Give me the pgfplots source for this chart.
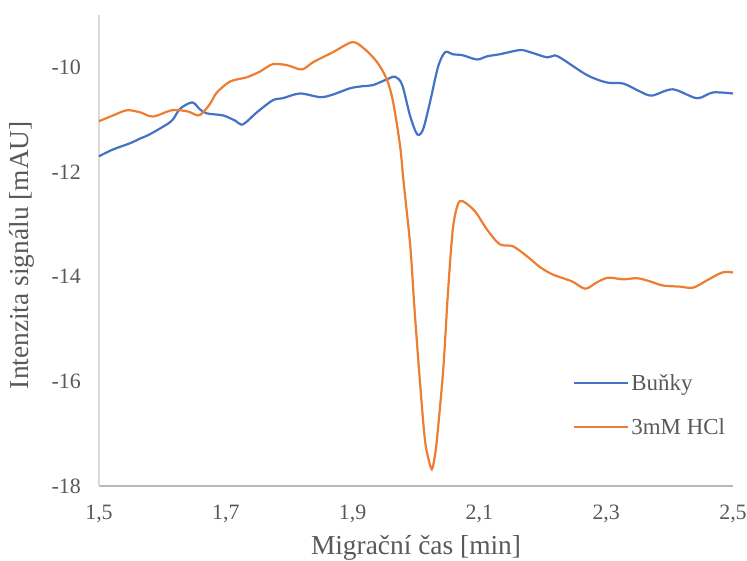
\documentclass[border=0pt]{standalone}
\usepackage{fontspec}
\setmainfont{Liberation Serif}
\usepackage{pgfplots}
\pgfplotsset{compat=1.18}
\definecolor{exblue}{HTML}{4472C4}
\definecolor{exorange}{HTML}{ED7D31}
\definecolor{txtgray}{HTML}{595959}
\begin{document}
\begin{tikzpicture}
\path[use as bounding box] (-99bp,-75bp) rectangle (648bp,486bp);
\begin{axis}[
  at={(0,0)}, anchor=south west,
  scale only axis, width=634bp, height=471bp,
  xmin=1.5, xmax=2.5, ymin=-18, ymax=-9,
  xtick={1.5,1.7,1.9,2.1,2.3,2.5},
  ytick={-18,-16,-14,-12,-10},
  major tick length=0pt,
  axis x line=bottom, axis y line=left,
  axis line style={-},
  x axis line style={draw=black!28, line width=1.2bp},
  y axis line style={draw=black!14, line width=1.2bp},
  /pgf/number format/assume math mode=true,
  /pgf/number format/use comma,
  /pgf/number format/fixed,
  xticklabel style={/pgf/number format/precision=1,/pgf/number format/fixed zerofill, anchor=center, yshift=-28bp},
  yticklabel style={anchor=east, xshift=-18bp},
  tick label style={font=\fontsize{22}{24}\selectfont, text=txtgray, inner sep=0pt},
  xlabel={Migrační čas [min]},
  ylabel={Intenzita signálu [mAU]},
  label style={font=\fontsize{27.5}{30}\selectfont, text=txtgray},
  xlabel style={at={(axis description cs:0.5,-0.1315)}, anchor=center},
  ylabel style={at={(axis description cs:-0.1215,0.49)}, anchor=center},
  legend style={draw=none, fill=none, at={(0.7476,0.172)}, anchor=west, inner sep=0pt,
    font=\fontsize{23}{25}\selectfont, text=txtgray, row sep=23bp,
    /tikz/every even column/.append style={column sep=2bp}},
  legend cell align=left,
  legend image code/.code={\draw[#1] (0bp,0bp) -- (54bp,0bp);},
  every axis plot/.append style={line width=2.2bp, smooth, tension=0.5},
  clip=false,
]
\addplot[exblue] coordinates {
(1.500,-11.70) (1.522,-11.57) (1.549,-11.45) (1.565,-11.36) (1.580,-11.28)
(1.607,-11.09) (1.617,-10.99) (1.628,-10.79) (1.647,-10.67) (1.659,-10.80)
(1.670,-10.88) (1.696,-10.92) (1.715,-11.02) (1.727,-11.09) (1.749,-10.86)
(1.774,-10.63) (1.790,-10.59) (1.817,-10.50) (1.849,-10.57) (1.869,-10.52)
(1.896,-10.40) (1.916,-10.36) (1.932,-10.34) (1.954,-10.23) (1.967,-10.18)
(1.978,-10.33) (1.991,-10.94) (2.002,-11.28) (2.011,-11.19) (2.022,-10.67)
(2.035,-9.98) (2.046,-9.71) (2.058,-9.75) (2.074,-9.77) (2.096,-9.85)
(2.112,-9.79) (2.132,-9.75) (2.164,-9.67) (2.180,-9.71) (2.207,-9.81)
(2.219,-9.77) (2.232,-9.85) (2.270,-10.15) (2.301,-10.29) (2.327,-10.31)
(2.353,-10.46) (2.372,-10.54) (2.405,-10.42) (2.443,-10.59) (2.468,-10.48)
(2.500,-10.50)
};
\addlegendentry{Buňky}
\addplot[exorange] coordinates {
(1.500,-11.03) (1.522,-10.92) (1.544,-10.82) (1.565,-10.86) (1.585,-10.94)
(1.615,-10.82) (1.639,-10.84) (1.656,-10.92) (1.664,-10.86) (1.675,-10.70)
(1.686,-10.48) (1.707,-10.27) (1.733,-10.19) (1.754,-10.08) (1.774,-9.94)
(1.797,-9.96) (1.820,-10.04) (1.838,-9.90) (1.869,-9.71) (1.899,-9.52)
(1.916,-9.62) (1.938,-9.89) (1.954,-10.23) (1.964,-10.67) (1.975,-11.51)
(1.980,-12.14) (1.991,-13.42) (1.998,-14.68) (2.006,-15.97) (2.014,-17.11)
(2.021,-17.55) (2.025,-17.68) (2.028,-17.55) (2.033,-17.11) (2.043,-15.77)
(2.050,-14.38) (2.058,-13.10) (2.066,-12.62) (2.074,-12.56) (2.093,-12.75)
(2.112,-13.10) (2.132,-13.38) (2.153,-13.42) (2.175,-13.61) (2.196,-13.82)
(2.216,-13.96) (2.246,-14.09) (2.267,-14.23) (2.285,-14.11) (2.303,-14.02)
(2.327,-14.05) (2.349,-14.03) (2.369,-14.09) (2.390,-14.17) (2.416,-14.19)
(2.437,-14.21) (2.459,-14.07) (2.483,-13.92) (2.500,-13.92)
};
\addlegendentry{3mM HCl}
\end{axis}
\end{tikzpicture}
\end{document}
